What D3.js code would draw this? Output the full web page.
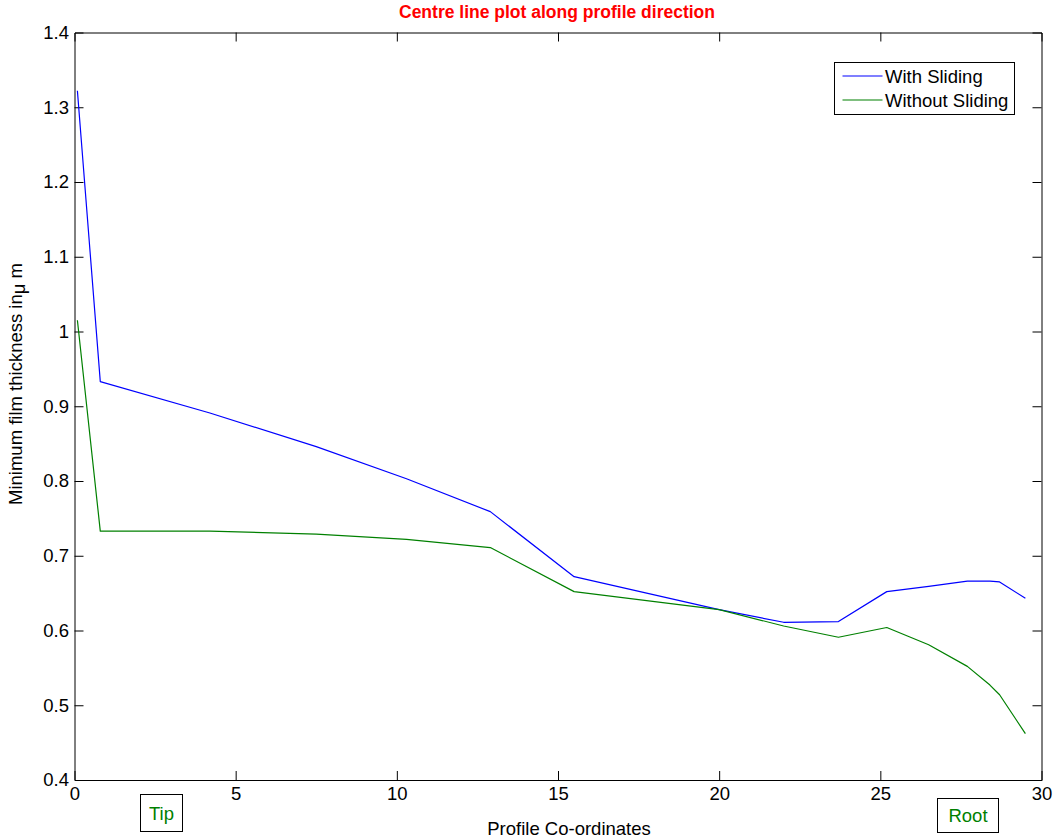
<!DOCTYPE html>
<html>
<head>
<meta charset="utf-8">
<script src="https://cdn.jsdelivr.net/npm/d3@7"></script>
<style>
  html, body { margin: 0; padding: 0; background: #fff; }
  svg { display: block; font-family: "Liberation Sans", Arial, sans-serif; }
</style>
</head>
<body>
<svg id="chart" width="1054" height="839"></svg>
<script>
// Profile coordinates along the centre line (tip -> root)
const profileX = [0.09, 0.8, 4.2, 7.5, 10.3, 12.9, 15.5, 20, 22, 23.7, 25.2, 26.5, 27.7, 28.4, 28.7, 29.5];
// Minimum film thickness (µm) with sliding
const withSliding = [1.322, 0.933, 0.891, 0.846, 0.803, 0.759, 0.672, 0.628, 0.611, 0.612, 0.652, 0.659, 0.666, 0.666, 0.665, 0.643];
// Minimum film thickness (µm) without sliding
const withoutSliding = [1.015, 0.733, 0.733, 0.729, 0.722, 0.711, 0.652, 0.628, 0.606, 0.591, 0.604, 0.581, 0.552, 0.527, 0.514, 0.462];

const xTicks = [0, 5, 10, 15, 20, 25, 30];
const yTicks = [0.4, 0.5, 0.6, 0.7, 0.8, 0.9, 1, 1.1, 1.2, 1.3, 1.4];
const seriesNames = ["With Sliding", "Without Sliding"];
const seriesColors = ["#0000ff", "#008000"];

const svg = d3.select("#chart");
const plotL = 74.5, plotR = 1041.5, plotT = 32.5, plotB = 780;
const x = d3.scaleLinear().domain([0, 30]).range([plotL, plotR]);
const y = d3.scaleLinear().domain([0.4, 1.4]).range([plotB, plotT]);
const fontSize = 18.5;
const tickLen = 9;

// Title
svg.append("text")
  .attr("x", 557).attr("y", 18)
  .attr("text-anchor", "middle")
  .attr("font-size", 17.5).attr("font-weight", "bold")
  .attr("fill", "#ff0000")
  .text("Centre line plot along profile direction");

// Axes (ticks pointing inward, box style)
const fmtY = d => String(+d.toFixed(1));
const axB = svg.append("g").attr("transform", `translate(0,${plotB})`)
  .call(d3.axisBottom(x).tickValues(xTicks).tickSize(-tickLen).tickPadding(6.5).tickFormat(d3.format("d")));
const axT = svg.append("g").attr("transform", `translate(0,${plotT})`)
  .call(d3.axisTop(x).tickValues(xTicks).tickSize(-tickLen).tickFormat(""));
const axL = svg.append("g").attr("transform", `translate(${plotL},0)`)
  .call(d3.axisLeft(y).tickValues(yTicks).tickSize(-tickLen).tickPadding(5.5).tickFormat(fmtY));
const axR = svg.append("g").attr("transform", `translate(${plotR},0)`)
  .call(d3.axisRight(y).tickValues(yTicks).tickSize(-tickLen).tickFormat(""));

[axB, axT, axL, axR].forEach(g => {
  g.select(".domain").attr("stroke", "#000").attr("stroke-width", 1);
  g.selectAll(".tick line").attr("stroke", "#000").attr("stroke-width", 1);
  g.selectAll(".tick text").attr("fill", "#000").attr("font-size", fontSize)
    .attr("font-family", "'Liberation Sans', Arial, sans-serif");
});
// Remove end ticks that sit on the box corners
axT.selectAll(".tick").filter(d => d === 0 || d === 30).select("line").remove();
axR.selectAll(".tick").filter(d => d === 0.4 || d === 1.4).select("line").remove();
axB.selectAll(".tick").filter(d => d === 0 || d === 30).select("line").remove();
axL.selectAll(".tick").filter(d => d === 0.4 || d === 1.4).select("line").remove();

// Series lines
const line = d3.line().x((d, i) => x(profileX[i])).y(d => y(d));
[withSliding, withoutSliding].forEach((s, k) => {
  svg.append("path")
    .datum(s)
    .attr("fill", "none")
    .attr("stroke", seriesColors[k])
    .attr("stroke-width", 1.2)
    .attr("stroke-linejoin", "round")
    .attr("d", line);
});

// Legend
const lg = svg.append("g").attr("transform", "translate(834.5,62.5)");
lg.append("rect").attr("width", 180).attr("height", 52)
  .attr("fill", "#fff").attr("stroke", "#000").attr("stroke-width", 1);
seriesNames.forEach((name, k) => {
  const cy = 13.5 + k * 24;
  lg.append("line").attr("x1", 8).attr("x2", 48).attr("y1", cy).attr("y2", cy)
    .attr("stroke", seriesColors[k]).attr("stroke-width", 1.2);
  lg.append("text").attr("x", 50.5).attr("y", cy + 6.5)
    .attr("font-size", fontSize).attr("fill", "#000").text(name);
});

// Axis labels
svg.append("text")
  .attr("x", 569).attr("y", 835)
  .attr("text-anchor", "middle")
  .attr("font-size", fontSize).attr("fill", "#000")
  .text("Profile Co-ordinates");

const yl = svg.append("text")
  .attr("transform", "translate(22,384) rotate(-90)")
  .attr("text-anchor", "middle")
  .attr("font-size", fontSize).attr("fill", "#000");
yl.append("tspan").text("Minimum film thickness in");
yl.append("tspan").attr("dy", 3).text("\u03bc");
yl.append("tspan").attr("dy", -3).text(" m");

// Tip / Root annotation boxes
const notes = [
  { label: "Tip", x0: 140.5, y0: 794.5, w: 42, h: 37 },
  { label: "Root", x0: 937.5, y0: 798.5, w: 61, h: 34 }
];
notes.forEach(n => {
  svg.append("rect").attr("x", n.x0).attr("y", n.y0).attr("width", n.w).attr("height", n.h)
    .attr("fill", "#fff").attr("stroke", "#000").attr("stroke-width", 1);
  svg.append("text").attr("x", n.x0 + n.w / 2).attr("y", n.y0 + n.h / 2 + 6.5)
    .attr("text-anchor", "middle").attr("font-size", fontSize).attr("fill", "#008000")
    .text(n.label);
});
</script>
</body>
</html>
